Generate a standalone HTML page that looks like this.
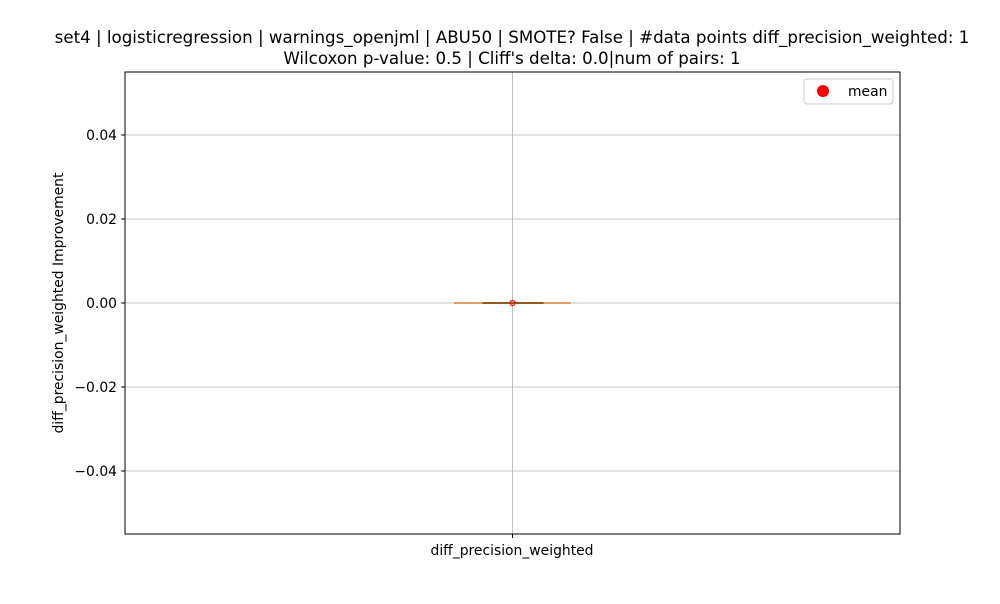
<!DOCTYPE html>
<html><head><meta charset="utf-8"><style>
body{margin:0;background:#fff;font-family:"DejaVu Sans","Liberation Sans",sans-serif}
</style></head><body>
<svg width="1000" height="600" font-family="DejaVu Sans, Liberation Sans, sans-serif">
<text x="512" y="43" text-anchor="middle" font-size="16.67">set4 | logisticregression | warnings_openjml | ABU50 | SMOTE? False | #data points diff_precision_weighted: 1</text>
<text x="512" y="64" text-anchor="middle" font-size="16.67">Wilcoxon p-value: 0.5 | Cliff's delta: 0.0|num of pairs: 1</text>
<g id="grid"></g>
<g id="ticks"></g>
<g id="marks"></g>
<rect x="125" y="72" width="775" height="462" fill="none" stroke="#000" stroke-width="1"/>
<text x="512" y="555" text-anchor="middle" font-size="13.9">diff_precision_weighted</text>
<text transform="translate(63,303) rotate(-90)" text-anchor="middle" font-size="13.9">diff_precision_weighted Improvement</text>
<g>
<rect x="804" y="79" width="89" height="25" rx="3" fill="#fff" stroke="#ccc"/>
<circle cx="823" cy="91" r="6" fill="red"/>
<text x="848" y="96" font-size="13.9">mean</text>
</g>
</svg>
<script>
const yTicks=[-0.04,-0.02,0,0.02,0.04];
const yTickLabels=["−0.04","−0.02","0.00","0.02","0.04"];
const q1=[0],q3=[0],med=[0],whiskLo=[0],whiskHi=[0],means=[0];
const y=v=>303-v*4200;
const NS="http://www.w3.org/2000/svg";
function mk(t,a,p){const e=document.createElementNS(NS,t);for(const k in a)e.setAttribute(k,a[k]);p.appendChild(e);return e;}
const g=document.getElementById('grid'),tk=document.getElementById('ticks'),m=document.getElementById('marks');
yTicks.forEach((v,i)=>{
 const l=mk('line',{x1:125,x2:900,y1:y(v),y2:y(v),stroke:'#b0b0b0','stroke-width':0.8},g);
 
 
 mk('line',{x1:121,x2:125,y1:y(v),y2:y(v),stroke:'#000'},tk);
 const t=mk('text',{x:117,y:y(v)+5,'text-anchor':'end','font-size':13.9},tk);
 t.textContent=yTickLabels[i];
 
 
});
mk('line',{x1:512.5,x2:512.5,y1:72,y2:534,stroke:'#b0b0b0','stroke-width':0.8},g);
mk('line',{x1:512.5,x2:512.5,y1:534,y2:538,stroke:'#000'},tk);
const cx=512.5;
mk('line',{x1:cx,x2:cx,y1:y(whiskLo[0]),y2:y(q1[0]),stroke:'#000'},m);
mk('line',{x1:cx,x2:cx,y1:y(q3[0]),y2:y(whiskHi[0]),stroke:'#000'},m);
mk('line',{x1:454,x2:571,y1:y(whiskLo[0]),y2:y(whiskLo[0]),stroke:'#000'},m);
mk('line',{x1:454,x2:571,y1:y(whiskHi[0]),y2:y(whiskHi[0]),stroke:'#000'},m);
const b=mk('rect',{x:483,y:y(q3[0])-0.5,width:60,height:Math.max(1,y(q1[0])-y(q3[0])+1),fill:'none',stroke:'#000'},m);


const md=mk('line',{x1:454,x2:571,y1:y(med[0]),y2:y(med[0]),stroke:'#e8892e','stroke-width':1.5,'stroke-opacity':0.85},m);


const mc=mk('circle',{cx:cx,cy:y(means[0]),r:2.5,fill:'none',stroke:'red','stroke-width':1.2},m);


</script>
</body></html>
